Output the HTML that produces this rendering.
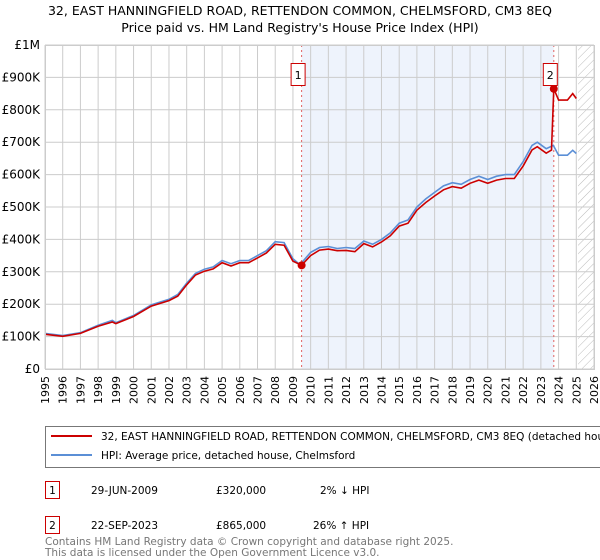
<!DOCTYPE html>
<html><head><meta charset="utf-8"><style>
body{margin:0;width:600px;height:560px;background:#fff;font-family:"Liberation Sans","DejaVu Sans",sans-serif;overflow:hidden}
svg{display:block}
</style></head><body>
<svg id="chart" width="600" height="560" viewBox="0 0 600 560" xmlns="http://www.w3.org/2000/svg" font-family="DejaVu Sans, Liberation Sans, sans-serif">
<defs><pattern id="hatch" width="6" height="6" patternUnits="userSpaceOnUse" patternTransform="rotate(45)"><line x1="0" y1="0" x2="0" y2="6" stroke="#bbb" stroke-width="1"/></pattern></defs>
<text x="300" y="15" text-anchor="middle" font-size="12.5">32, EAST HANNINGFIELD ROAD, RETTENDON COMMON, CHELMSFORD, CM3 8EQ</text>
<text x="300" y="32" text-anchor="middle" font-size="12.5">Price paid vs. HM Land Registry's House Price Index (HPI)</text>
<g id="plot"></g>
<g>
<rect x="45.5" y="426.5" width="570" height="41" fill="#fff" stroke="#777"/>
<line x1="51" y1="436" x2="92" y2="436" stroke="#cc0000" stroke-width="2"/>
<text x="101" y="440" font-size="10.5">32, EAST HANNINGFIELD ROAD, RETTENDON COMMON, CHELMSFORD, CM3 8EQ (detached house)</text>
<line x1="51" y1="455" x2="92" y2="455" stroke="#5b8fd6" stroke-width="2"/>
<text x="101" y="459" font-size="10.5">HPI: Average price, detached house, Chelmsford</text>
</g>
<g font-size="10.5">
<rect x="45.5" y="481.5" width="14" height="17" fill="#fff" stroke="#cc0000"/><text x="52.5" y="494" text-anchor="middle">1</text>
<text x="91" y="494">29-JUN-2009</text><text x="216" y="494">£320,000</text><text x="320" y="494">2% ↓ HPI</text>
<rect x="45.5" y="516.5" width="14" height="17" fill="#fff" stroke="#cc0000"/><text x="52.5" y="529" text-anchor="middle">2</text>
<text x="91" y="529">22-SEP-2023</text><text x="216" y="529">£865,000</text><text x="313" y="529">26% ↑ HPI</text>
</g>
<text x="45" y="545" font-size="10.5" fill="#777">Contains HM Land Registry data © Crown copyright and database right 2025.</text>
<text x="45" y="556" font-size="10.5" fill="#777">This data is licensed under the Open Government Licence v3.0.</text>
</svg>
<script>
const years=[1995,1996,1997,1998,1999,2000,2001,2002,2003,2004,2005,2006,2007,2008,2009,2010,2011,2012,2013,2014,2015,2016,2017,2018,2019,2020,2021,2022,2023,2024,2025,2026];
const yTicks=[0,100000,200000,300000,400000,500000,600000,700000,800000,900000,1000000];
const yTickLabels=["£0","£100K","£200K","£300K","£400K","£500K","£600K","£700K","£800K","£900K","£1M"];
const hpiT=[1995,1996,1997,1998,1998.8,1999,2000,2001,2002,2002.5,2003,2003.5,2004,2004.5,2005,2005.5,2006,2006.5,2007,2007.5,2008,2008.5,2009,2009.4,2010,2010.5,2011,2011.5,2012,2012.5,2013,2013.5,2014,2014.5,2015,2015.5,2016,2016.5,2017,2017.5,2018,2018.5,2019,2019.5,2020,2020.5,2021,2021.5,2022,2022.5,2022.8,2023.3,2023.7,2024,2024.5,2024.8,2025];
const hpiV=[110000,103000,112000,135000,150000,143000,165000,198000,215000,230000,265000,295000,308000,315000,335000,325000,335000,335000,350000,365000,393000,390000,340000,322000,360000,375000,378000,372000,375000,372000,395000,385000,400000,420000,450000,460000,500000,525000,545000,565000,575000,570000,585000,595000,585000,595000,600000,600000,640000,690000,700000,680000,690000,660000,660000,675000,665000];
const redT=[1995,1996,1997,1998,1998.8,1999,2000,2001,2002,2002.5,2003,2003.5,2004,2004.5,2005,2005.5,2006,2006.5,2007,2007.5,2008,2008.5,2009,2009.49,2010,2010.5,2011,2011.5,2012,2012.5,2013,2013.5,2014,2014.5,2015,2015.5,2016,2016.5,2017,2017.5,2018,2018.5,2019,2019.5,2020,2020.5,2021,2021.5,2022,2022.5,2022.8,2023.3,2023.6,2023.73,2024,2024.5,2024.8,2025];
const redV=[107000,101000,110000,132000,145000,140000,162000,194000,211000,225000,260000,290000,302000,309000,328000,318000,328000,328000,343000,358000,385000,382000,333000,320000,350000,367000,370000,365000,366000,362000,387000,377000,392000,411000,441000,450000,490000,514000,534000,553000,563000,558000,573000,583000,573000,583000,588000,588000,627000,676000,686000,666000,676000,865000,830000,830000,850000,835000];
const sales=[{t:2009.49,v:320000,label:"1"},{t:2023.73,v:865000,label:"2"}];
const X0=45,X1=594,Y0=369,Y1=45;
const xs=t=>X0+(t-1995)/(2026-1995)*(X1-X0);
const ys=v=>Y0-v/1000000*(Y0-Y1);
const NS="http://www.w3.org/2000/svg";
const g=document.getElementById('plot');
function mk(tag,at,parent){const e=document.createElementNS(NS,tag);for(const k in at)e.setAttribute(k,at[k]);(parent||g).appendChild(e);return e;}
let r=mk('rect',{x:xs(2009.49),y:Y1,width:xs(2023.73)-xs(2009.49),height:Y0-Y1,fill:'#eef3fc'});


r=mk('rect',{x:xs(2025.1),y:Y1,width:X1-xs(2025.1),height:Y0-Y1,fill:'url(#hatch)'});


years.forEach(y=>{
 const l=mk('line',{x1:xs(y),x2:xs(y),y1:Y1,y2:Y0,stroke:'#ccc','stroke-width':1});
 
 
 const t=mk('text',{x:0,y:0,'font-size':11,'text-anchor':'end',transform:`translate(${xs(y)+4},${Y0+7}) rotate(-90)`});
 t.textContent=y;
 
 
});
yTicks.forEach((v,i)=>{
 const l=mk('line',{x1:X0,x2:X1,y1:ys(v),y2:ys(v),stroke:'#ccc','stroke-width':1});
 
 
 const t=mk('text',{x:X0-5,y:ys(v)+4,'font-size':12,'text-anchor':'end'});
 t.textContent=yTickLabels[i];
 
 
});
sales.forEach(s=>{
 const l=mk('line',{x1:xs(s.t),x2:xs(s.t),y1:Y1,y2:Y0,stroke:'#e06060','stroke-dasharray':'2,3','stroke-width':1});
 
 
});
const pts=(T,V)=>T.map((t,i)=>xs(t).toFixed(1)+','+ys(V[i]).toFixed(1)).join(' ');
let p=mk('polyline',{points:pts(hpiT,hpiV),fill:'none',stroke:'#5b8fd6','stroke-width':1.6});


p=mk('polyline',{points:pts(redT,redV),fill:'none',stroke:'#cc0000','stroke-width':1.6});


sales.forEach(s=>{
 const c=mk('circle',{cx:xs(s.t),cy:ys(s.v),r:4,fill:'#cc0000'});
 
 
 const b=mk('rect',{x:xs(s.t)-10.5,y:63.5,width:14,height:22,fill:'#fff',stroke:'#cc0000'});
 
 
 const t=mk('text',{x:xs(s.t)-3.5,y:79,'font-size':11,'text-anchor':'middle'});
 t.textContent=s.label;
 
 
});
const f=mk('rect',{x:X0+0.5,y:Y1+0.5,width:X1-X0,height:Y0-Y1,fill:'none',stroke:'#ccc'});


</script>
</body></html>
